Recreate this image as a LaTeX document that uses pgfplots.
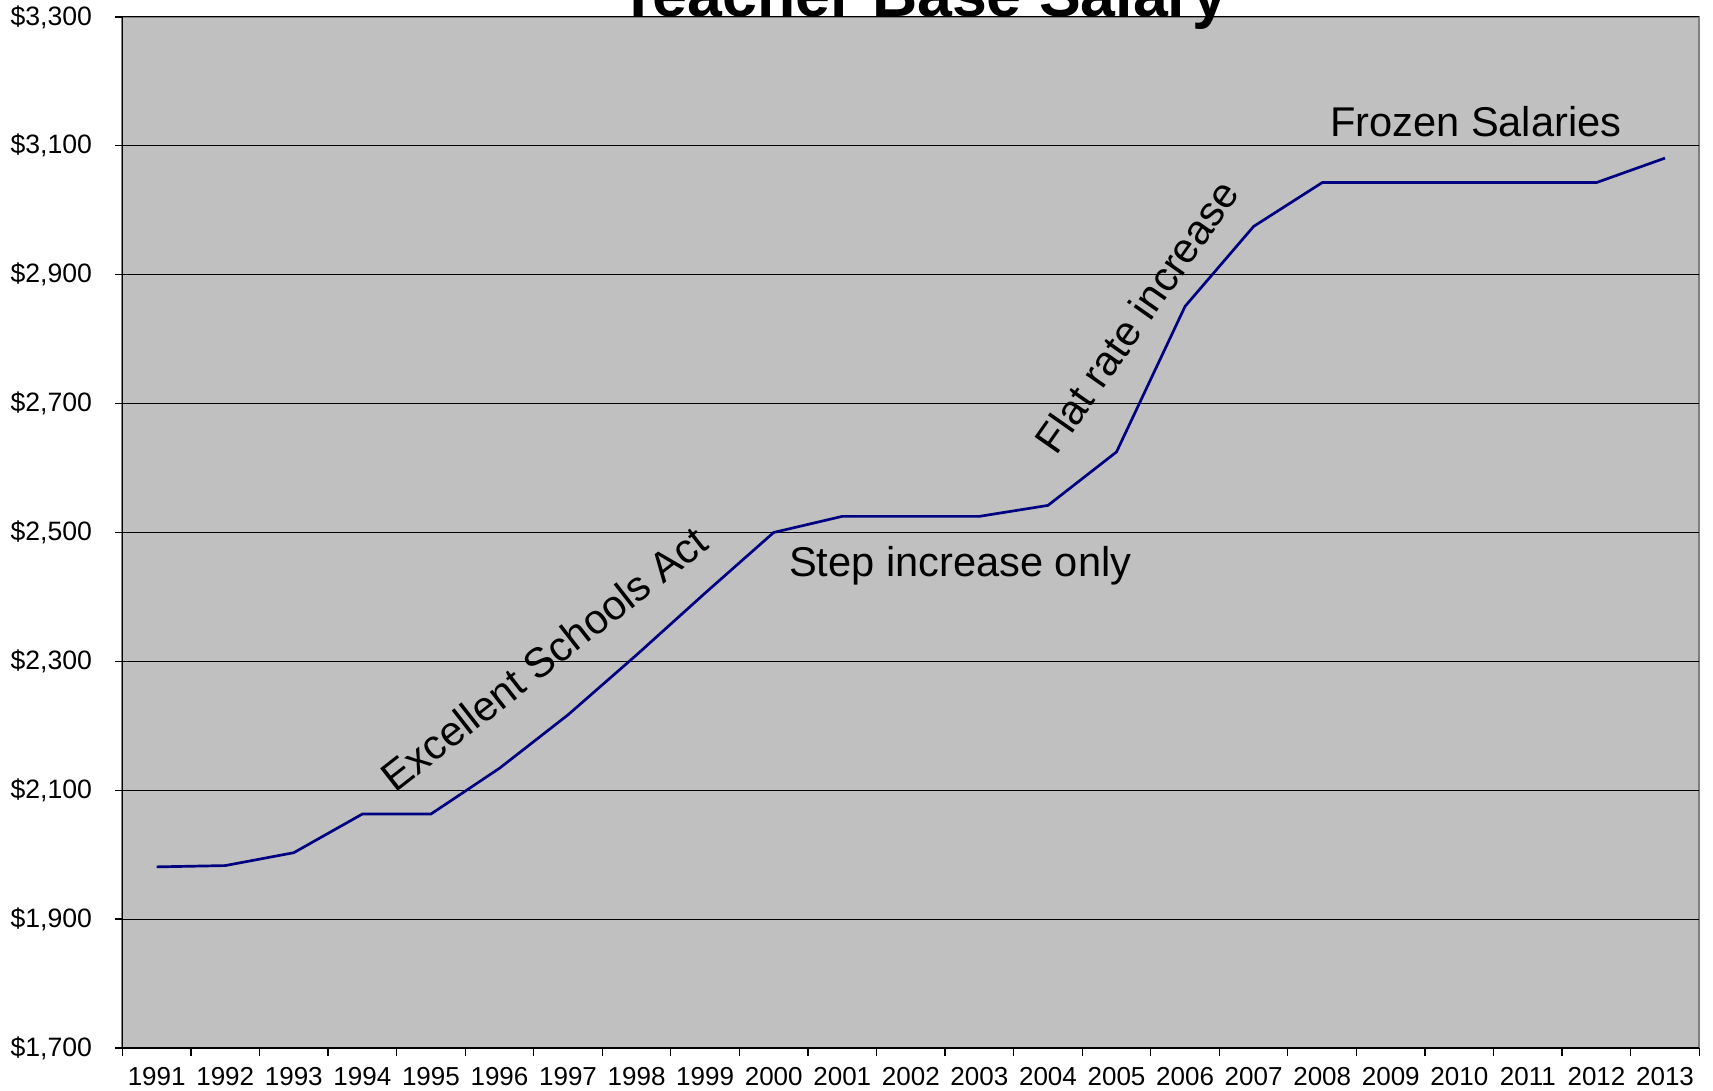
\documentclass[border=0pt]{standalone}
\usepackage{fontspec}
\setmainfont{Liberation Sans}
\usepackage{pgfplots}
\pgfplotsset{compat=1.18}
\definecolor{plotbg}{HTML}{C0C0C0}
\definecolor{bordergray}{HTML}{808080}
\definecolor{navyline}{HTML}{000080}
\begin{document}
\begin{tikzpicture}
\begin{axis}[
  at={(0pt,0pt)}, anchor=south west,
  scale only axis, width=788.5pt, height=515.5pt,
  xmin=1990.5, xmax=2013.5, ymin=1700, ymax=3300,
  axis background/.style={fill=plotbg, draw=bordergray, line width=1pt},
  axis lines*=left,
  axis line style={black, line width=0.6pt, -},
  tick align=outside,
  xtick={1991,1992,1993,1994,1995,1996,1997,1998,1999,2000,2001,2002,2003,2004,2005,2006,2007,2008,2009,2010,2011,2012,2013},
  xticklabels={1991,1992,1993,1994,1995,1996,1997,1998,1999,2000,2001,2002,2003,2004,2005,2006,2007,2008,2009,2010,2011,2012,2013},
  major x tick style={draw=none},
  minor xtick={1990.5,1991.5,...,2013.5},
  minor tick length=4pt, major tick length=3.5pt,
  tick style={black, line width=0.6pt},
  ytick={1700,1900,2100,2300,2500,2700,2900,3100,3300},
  yticklabels={{\$1,700},{\$1,900},{\$2,100},{\$2,300},{\$2,500},{\$2,700},{\$2,900},{\$3,100},{\$3,300}},
  ymajorgrids,
  major grid style={black, line width=0.5pt},
  xticklabel style={font=\fontsize{13}{15}\selectfont, anchor=north, inner sep=0pt, yshift=-6.2pt},
  yticklabel style={font=\fontsize{13.3}{15}\selectfont, anchor=east, inner sep=0pt, xshift=-11.5pt},
  clip=false,
]
\addplot[navyline, line width=1.35pt, mark=none] coordinates {
  (1991,1981) (1992,1983) (1993,2003) (1994,2063) (1995,2063)
  (1996,2134) (1997,2217) (1998,2310) (1999,2406) (2000,2500)
  (2001,2525) (2002,2525) (2003,2525) (2004,2542) (2005,2625)
  (2006,2851) (2007,2975) (2008,3043) (2009,3043) (2010,3043)
  (2011,3043) (2012,3043) (2013,3081)
};
\node[font=\fontsize{20.8}{24}\selectfont, rotate=38] at (axis cs:1996.65,2304) {Excellent Schools Act};
\node[font=\fontsize{20.8}{24}\selectfont, anchor=base] at (axis cs:2002.72,2431) {Step increase only};
\node[font=\fontsize{20.8}{24}\selectfont, rotate=55] at (axis cs:2005.29,2835) {Flat rate increase};
\node[font=\fontsize{20.8}{24}\selectfont, anchor=base] at (axis cs:2010.24,3114) {Frozen Salaries};
\node[font=\bfseries\fontsize{31.3}{36}\selectfont, anchor=base] at (axis cs:2002.18,3300) {Teacher Base Salary};
\end{axis}
\pgfresetboundingbox
\path[use as bounding box] (-61.2pt,-21.5pt) rectangle (795.35pt,524pt);
\end{tikzpicture}
\end{document}
